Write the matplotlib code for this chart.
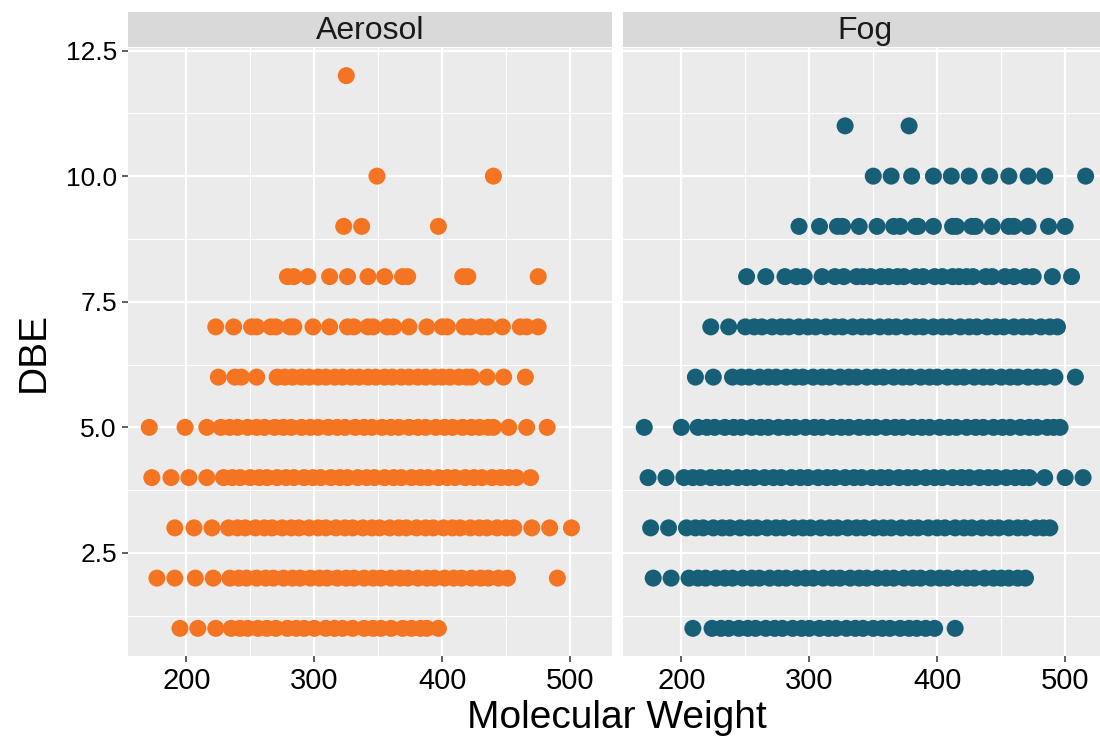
import numpy as np
import matplotlib
matplotlib.use("Agg")
import matplotlib.pyplot as plt

plt.rcParams['font.family'] = ['Liberation Sans', 'DejaVu Sans']

# molecular weight values per DBE row
aerosol = {
    12: [325],
    10: [349, 440],
    9: [323, 337, 397],
    8: [279, 284, 295, 312, 326, 342, 355, 369, 373, 416, 420, 475],
    7: [223, 237, 251, 255, 266, 270, 281, 284, 299, 312, 326, 331, 342, 346,
        357, 362, 374, 388, 400, 404, 417, 422, 431, 436, 447, 461, 466, 475],
    6: [225, 238, 243, 255, 271, 277, 283, 290, 296, 303, 309, 316, 322, 329,
        335, 342, 348, 355, 361, 368, 374, 381, 387, 394, 400, 406, 413, 419,
        423, 435, 448, 465],
    5: [171, 199, 216, 227, 234, 240, 248, 255, 261, 269, 276, 282, 290, 297,
        303, 311, 318, 324, 332, 339, 345, 353, 360, 366, 374, 381, 387, 395,
        402, 408, 416, 423, 429, 436, 440, 452, 466, 482],
    4: [173, 188, 202, 216, 229, 236, 242, 250, 257, 263, 271, 278, 284, 292,
        299, 305, 313, 320, 326, 334, 341, 347, 355, 362, 368, 376, 383, 389,
        397, 404, 410, 418, 425, 431, 439, 446, 452, 458, 469],
    3: [191, 206, 220, 233, 240, 246, 254, 261, 267, 275, 282, 288, 296, 303,
        309, 317, 324, 330, 338, 345, 351, 359, 366, 372, 380, 387, 393, 401,
        408, 414, 422, 429, 435, 443, 450, 456, 470, 484, 501],
    2: [177, 191, 207, 221, 234, 241, 247, 255, 262, 268, 276, 283, 289, 297,
        304, 310, 318, 325, 331, 339, 346, 352, 360, 367, 373, 381, 388, 394,
        402, 409, 415, 423, 430, 436, 444, 451, 490],
    1: [195, 209, 223, 235, 242, 248, 256, 263, 270, 279, 286, 292, 300, 309,
        316, 322, 330, 339, 346, 352, 360, 369, 376, 383, 388, 397],
}

fog = {
    11: [328, 378],
    10: [350, 364, 380, 397, 411, 425, 441, 456, 471, 484, 516],
    9: [292, 308, 322, 326, 339, 353, 366, 371, 383, 385, 397, 412, 415, 427,
        430, 443, 456, 460, 471, 487, 500],
    8: [251, 266, 281, 290, 296, 310, 320, 327, 337, 342, 348, 356, 362, 369,
        374, 383, 389, 398, 404, 412, 417, 423, 428, 438, 443, 453, 460, 469,
        475, 490, 505],
    7: [223, 237, 250, 257, 263, 271, 278, 284, 292, 299, 305, 313, 320, 326,
        334, 341, 347, 355, 362, 368, 376, 383, 389, 397, 404, 410, 418, 425,
        431, 439, 446, 452, 460, 467, 473, 481, 488, 494],
    6: [211, 225, 240, 247, 253, 261, 268, 274, 282, 289, 295, 303, 310, 316,
        324, 331, 337, 345, 352, 358, 366, 373, 379, 387, 394, 400, 408, 415,
        421, 429, 436, 442, 450, 457, 463, 471, 478, 484, 492, 508],
    5: [171, 200, 213, 220, 226, 234, 241, 247, 255, 262, 268, 276, 283, 289,
        297, 304, 310, 318, 325, 331, 339, 346, 352, 360, 367, 373, 381, 388,
        394, 402, 409, 415, 423, 430, 436, 444, 451, 457, 465, 472, 478, 486,
        491, 496],
    4: [174, 188, 202, 209, 215, 223, 230, 236, 244, 251, 257, 265, 272, 278,
        286, 293, 299, 307, 314, 320, 328, 335, 341, 349, 356, 362, 370, 377,
        383, 391, 398, 404, 412, 419, 425, 433, 440, 446, 454, 461, 467, 472,
        484, 500, 514],
    3: [176, 190, 204, 211, 217, 225, 232, 238, 246, 253, 259, 267, 274, 280,
        288, 295, 301, 309, 316, 322, 330, 337, 343, 351, 358, 364, 372, 379,
        385, 393, 400, 406, 414, 421, 427, 435, 442, 448, 456, 463, 469, 477,
        483, 488],
    2: [178, 192, 206, 213, 219, 227, 234, 240, 248, 255, 261, 269, 276, 282,
        290, 297, 303, 311, 318, 324, 332, 339, 345, 353, 360, 366, 374, 381,
        387, 395, 402, 408, 416, 423, 429, 437, 444, 450, 456, 463, 469],
    1: [209, 224, 231, 237, 245, 252, 258, 266, 273, 279, 287, 294, 300, 308,
        315, 321, 329, 336, 342, 350, 357, 363, 371, 378, 384, 391, 398, 414],
}

panels = [('Aerosol', aerosol, '#F47421'), ('Fog', fog, '#175F76')]
x_ticks = [200, 300, 400, 500]
y_ticks = [2.5, 5.0, 7.5, 10.0, 12.5]

W, H = 1100, 738
fig = plt.figure(figsize=(W / 100, H / 100), dpi=100)

lefts = [128, 623]
pw = 484
top, bottom = 48, 656
strip_top, strip_bot = 12, 47

for i, (name, data, col) in enumerate(panels):
    ax = fig.add_axes([lefts[i] / W, 1 - bottom / H, pw / W, (bottom - top) / H])
    ax.set_facecolor('#EBEBEB')
    xs = np.concatenate([data[k] for k in data])
    ys = np.concatenate([[k] * len(data[k]) for k in data])
    ax.scatter(xs, ys, s=150, color=col, edgecolors='none', zorder=3)
    ax.set_xlim(154.4, 532.7)
    ax.set_ylim(0.45, 12.55)
    ax.set_xticks(x_ticks)
    ax.set_yticks(y_ticks)
    ax.set_xticks([250, 350, 450], minor=True)
    ax.set_yticks([1.25, 3.75, 6.25, 8.75, 11.25], minor=True)
    ax.grid(which='major', color='white', lw=1.6, zorder=1)
    ax.grid(which='minor', color='white', lw=0.8, zorder=1)
    ax.set_axisbelow(True)
    for s in ax.spines.values():
        s.set_visible(False)
    ax.tick_params(which='major', length=4, width=1.1, color='#333333',
                   labelcolor='black', pad=4)
    ax.tick_params(axis='x', labelsize=21)
    ax.tick_params(axis='y', labelsize=19)
    ax.tick_params(which='minor', length=0)
    if i == 0:
        ax.set_yticklabels([f"{v:.1f}" for v in y_ticks])
        ax.set_ylabel('DBE', fontsize=28, labelpad=10)
    else:
        ax.tick_params(axis='y', which='both', left=False, labelleft=False)

    sax = fig.add_axes([lefts[i] / W, 1 - strip_bot / H, pw / W,
                        (strip_bot - strip_top) / H])
    sax.set_facecolor('#D9D9D9')
    sax.set_xticks([])
    sax.set_yticks([])
    for s in sax.spines.values():
        s.set_visible(False)
    sax.text(0.5, 0.46, name, ha='center', va='center', fontsize=23,
             color='#1A1A1A', transform=sax.transAxes)

fig.text(617 / W, 1 - 718 / H, 'Molecular Weight', ha='center', va='center',
         fontsize=28)

fig.savefig('out.png', dpi=100)
